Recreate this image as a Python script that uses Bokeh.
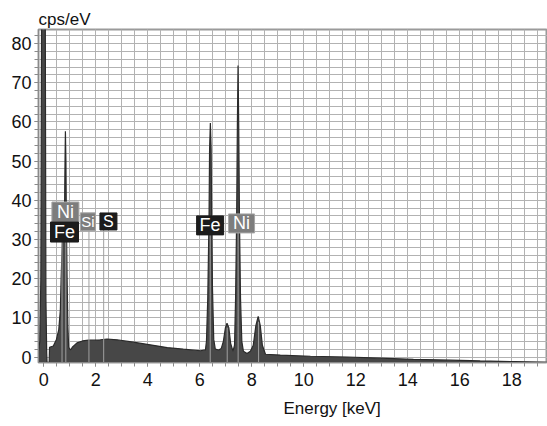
from bokeh.plotting import figure
from bokeh.models import Range1d, SingleIntervalTicker, Title, ColumnDataSource
from bokeh.core.properties import value
from bokeh.embed import file_html
from bokeh.resources import INLINE

# --- spectrum ---
energy_kev = [-0.20, -0.15, -0.11, -0.08, 0.06, 0.085, 0.115, 0.13, 0.21, 0.225,
              0.37, 0.49, 0.58, 0.64, 0.67, 0.72, 0.76, 0.80, 0.82, 0.835,
              0.855, 0.87, 0.90, 0.93, 0.96, 1.03, 1.10, 1.28, 1.49, 1.73,
              1.99, 2.18, 2.44, 2.82, 3.45, 4.10, 4.75, 5.37, 6.03, 6.22,
              6.26, 6.31, 6.36, 6.38, 6.41, 6.44, 6.46, 6.49, 6.54, 6.60,
              6.73, 6.83, 6.91, 6.99, 7.05, 7.12, 7.19, 7.28, 7.34, 7.38,
              7.42, 7.45, 7.475, 7.50, 7.53, 7.57, 7.62, 7.68, 7.82, 7.95,
              8.06, 8.16, 8.25, 8.33, 8.41, 8.53, 9.10, 10.26, 11.67, 12.95,
              14.22, 15.64, 16.79, 18.14, 19.40]
cps_per_ev = [1.5, 4.0, 20.0, 90.0, 90.0, 15.0, 1.0, -1.4, -1.4, 2.5,
              2.8, 4.5, 7.0, 12.0, 20.0, 30.0, 34.0, 36.0, 50.0, 57.6,
              50.0, 36.0, 20.0, 8.0, 2.5, 1.8, 2.5, 3.6, 4.1, 4.3,
              4.3, 4.4, 4.6, 4.4, 3.8, 3.1, 2.4, 2.0, 1.6, 1.8,
              4.0, 15.0, 36.0, 53.0, 59.7, 53.0, 36.0, 18.0, 4.5, 2.0,
              1.8, 2.2, 4.0, 7.5, 8.6, 7.5, 3.5, 1.5, 3.0, 15.0,
              35.0, 60.0, 74.4, 60.0, 35.0, 15.0, 4.0, 1.5, 0.9, 1.5,
              3.0, 8.0, 10.4, 8.0, 3.0, 0.7, 0.5, 0.2, 0.0, -0.3,
              -0.6, -0.8, -1.0, -1.2, -1.35]

# --- element marker lines ---
line_kev = [0.705, 0.851, 1.740, 2.307, 6.404, 7.478, 7.058, 8.265]
line_top = [29.4, 34.5, 32.2, 32.5, 31.1, 31.7, 7.5, 9.0]

# --- element labels ---
label_text = ["Ni", "Fe", "Si", "S", "Fe", "Ni"]
label_kev = [0.835, 0.80, 1.70, 2.49, 6.40, 7.61]
label_cps = [37.0, 31.9, 34.5, 34.6, 33.6, 34.1]
label_fill = ["#7d7d7d", "#1c1c1c", "#7d7d7d", "#1c1c1c", "#1c1c1c", "#7d7d7d"]
label_edge = ["#a5a5a5", "#1c1c1c", "#a5a5a5", "#1c1c1c", "#1c1c1c", "#a5a5a5"]
label_w = [27, 28, 15, 17, 27, 26]
label_h = [20, 20, 18, 17, 19, 19]
label_size = ["18px", "18px", "15px", "16px", "18px", "18px"]

Y_MIN, Y_MAX = -1.4, 83.6
X_MIN, X_MAX = -0.2, 19.377
FONT = "Liberation Sans"

p = figure(width=547, height=426, x_range=Range1d(X_MIN, X_MAX),
           y_range=Range1d(Y_MIN, Y_MAX), output_backend="svg",
           toolbar_location=None, min_border_left=38, min_border_right=0,
           min_border_top=29, min_border_bottom=64)

p.title.text = "cps/eV"
p.title.align = "left"
p.title.text_font = FONT
p.title.text_font_size = "17px"
p.title.text_font_style = "normal"
p.title.text_color = "#111111"
p.title.standoff = 2

xt = Title(text="Energy [keV]", align="left", offset=245, text_font=FONT,
           text_font_size="17px", text_font_style="normal", text_color="#111111",
           standoff=16)
p.add_layout(xt, "below")

p.xaxis.ticker = SingleIntervalTicker(interval=2, num_minor_ticks=4)
p.yaxis.ticker = SingleIntervalTicker(interval=10, num_minor_ticks=5)
for ax in (p.xaxis, p.yaxis):
    ax.axis_line_color = "#8a8a8a"
    ax.major_tick_line_color = "#8a8a8a"
    ax.minor_tick_line_color = "#8a8a8a"
    ax.major_tick_in = 0
    ax.minor_tick_in = 0
    ax.major_tick_out = 4
    ax.minor_tick_out = 4
    ax.major_label_text_font = FONT
    ax.major_label_text_font_size = "18px"
    ax.major_label_text_color = "#111111"
p.xaxis.major_label_standoff = 6
p.yaxis.major_label_standoff = 3

for g in (p.xgrid, p.ygrid):
    g.grid_line_color = "#b2b2b2"
    g.minor_grid_line_color = "#b2b2b2"
    g.grid_line_alpha = 1
    g.minor_grid_line_alpha = 1
p.outline_line_color = "#9a9a9a"
p.outline_line_width = 2

src = ColumnDataSource(dict(x=energy_kev, y=cps_per_ev))
p.varea(x="x", y1=Y_MIN, y2="y", source=src, fill_color="#474747")
p.line(x="x", y="y", source=src, line_color="#2a2a2a", line_width=1.2)

p.segment(x0=line_kev, y0=[Y_MIN] * len(line_kev), x1=line_kev, y1=line_top,
          line_color="#a0a0a0", line_width=1)

lab = ColumnDataSource(dict(x=label_kev, y=label_cps, t=label_text, fill=label_fill,
                            edge=label_edge, w=label_w, h=label_h, fs=label_size))
p.rect(x="x", y="y", width="w", height="h", width_units="screen", height_units="screen",
       fill_color="fill", line_color="edge", line_width=1, source=lab)
p.text(x="x", y="y", text="t", text_align="center", text_baseline="middle",
       text_color="white", text_font=value(FONT), text_font_size="fs", source=lab)

open("out.html", "w").write(file_html(p, INLINE))
